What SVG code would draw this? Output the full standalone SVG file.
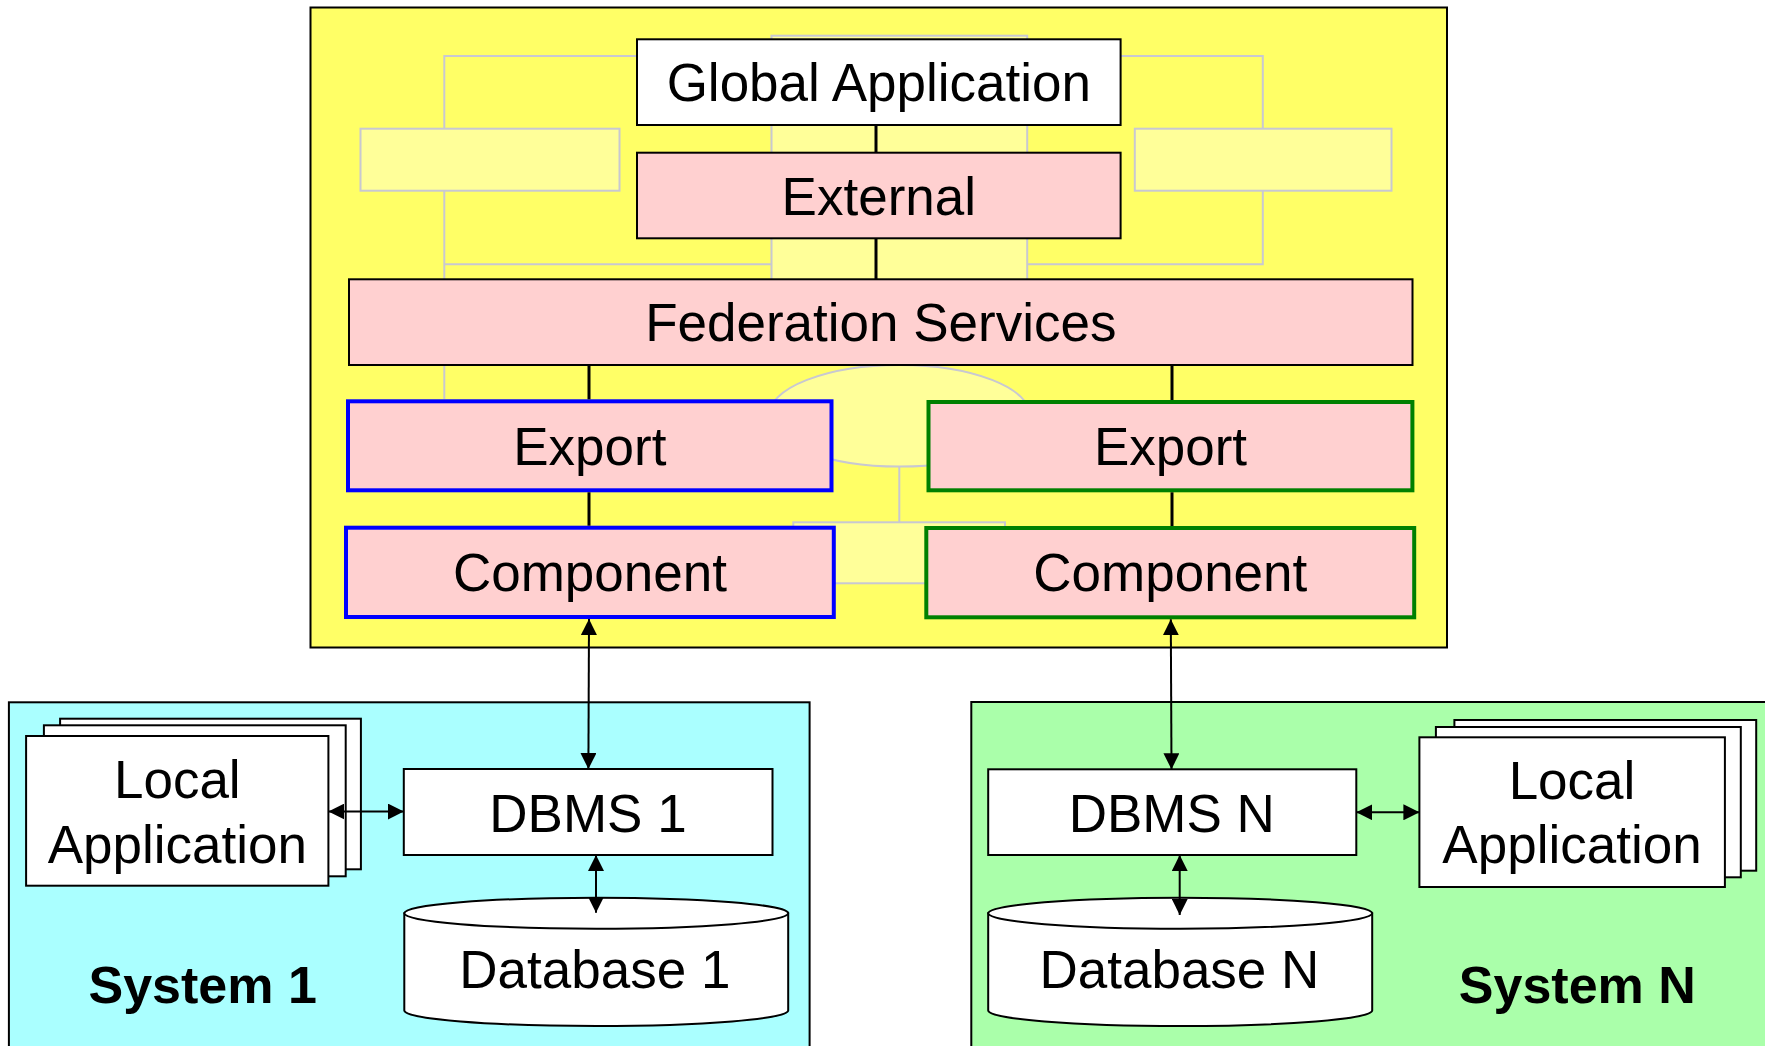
<svg xmlns="http://www.w3.org/2000/svg" width="1765" height="1046" viewBox="0 0 1765 1046">
  <defs>
    <marker id="arrow" markerUnits="userSpaceOnUse" markerWidth="16" markerHeight="16" viewBox="0 0 16 16" refX="16" refY="8" orient="auto-start-reverse">
      <path d="M0,0 L16,8 L0,16 Z" fill="#000"/>
    </marker>
    <style>
      text { font-family: "Liberation Sans", Arial, sans-serif; font-size: 53px; fill: #000; text-anchor: middle; }
      .bold { font-weight: bold; font-size: 52px; }
      .box { stroke: #000; stroke-width: 2; }
      .white { fill: #fff; }
      .pink { fill: #FFD0D0; }
      .blue { fill: #FFD0D0; stroke: #0000FF; stroke-width: 4; }
      .green { fill: #FFD0D0; stroke: #008000; stroke-width: 4; }
      .ghost { fill: #FFFF99; stroke: #C8C8D2; stroke-width: 2; }
      .ghostline { fill: none; stroke: #C8C8D2; stroke-width: 2; }
      .link { stroke: #000; stroke-width: 3; fill: none; }
      .arrow { stroke: #000; stroke-width: 2; fill: none; marker-start: url(#arrow); marker-end: url(#arrow); }
    </style>
  </defs>

  <!-- federation layer background -->
  <g id="federation-layer">
    <rect x="310.5" y="7.5" width="1136.5" height="640" fill="#FFFF66" stroke="#000" stroke-width="2"/>
    <!-- faint structure behind the schema boxes -->
    <rect class="ghost" x="771.5" y="35.7" width="255.7" height="260"/>
    <polyline class="ghostline" points="637,56 444.3,56 444.3,399"/>
    <polyline class="ghostline" points="444.3,264.3 771.5,264.3"/>
    <polyline class="ghostline" points="1120,56 1262.8,56 1262.8,264.3 1027.2,264.3"/>
    <rect class="ghost" x="360.5" y="128.7" width="259" height="62"/>
    <rect class="ghost" x="1134.8" y="128.7" width="256.7" height="62"/>
    <ellipse class="ghost" cx="899.5" cy="415.8" rx="130.8" ry="50.8"/>
    <line class="ghostline" x1="899.3" y1="466.6" x2="899.3" y2="522.3"/>
    <rect class="ghost" x="793.3" y="522.3" width="211.7" height="61"/>
  </g>

  <!-- local systems -->
  <g id="system-1">
    <rect x="8.9" y="702.3" width="800.7" height="360" fill="#AAFFFF" stroke="#000" stroke-width="2"/>
    <text class="bold" x="202.7" y="1003.3">System 1</text>
  </g>
  <g id="system-n">
    <rect x="971.3" y="702" width="820" height="360" fill="#AAFFAA" stroke="#000" stroke-width="2"/>
    <text class="bold" x="1577.3" y="1003.3">System N</text>
  </g>

  <g id="global-application">
    <rect class="box white" x="637" y="39.3" width="483.6" height="85.7"/>
    <text x="878.8" y="101">Global Application</text>
  </g>
  <g id="external-schema">
    <rect class="box pink" x="637" y="152.7" width="483.6" height="85.6"/>
    <text x="878.8" y="214.5">External</text>
  </g>
  <g id="federation-services">
    <rect class="box pink" x="349" y="279.3" width="1063.5" height="85.7"/>
    <text x="880.8" y="341">Federation Services</text>
  </g>
  <g id="export-1">
    <rect class="blue" x="348" y="401.3" width="483.5" height="89"/>
    <text x="589.8" y="464.8">Export</text>
  </g>
  <g id="component-1">
    <rect class="blue" x="346" y="527.7" width="487.8" height="89.3"/>
    <text x="589.9" y="591.3">Component</text>
  </g>
  <g id="export-n">
    <rect class="green" x="928.5" y="402" width="483.9" height="88.3"/>
    <text x="1170.5" y="464.8">Export</text>
  </g>
  <g id="component-n">
    <rect class="green" x="926.3" y="528" width="487.9" height="89.3"/>
    <text x="1170.3" y="591.3">Component</text>
  </g>

  <g id="local-application-1">
    <rect class="box white" x="60.1" y="718.7" width="300.8" height="150.6"/>
    <rect class="box white" x="43.9" y="725.3" width="301.8" height="151"/>
    <rect class="box white" x="26.1" y="736" width="302.3" height="149.7"/>
    <text x="177.3" y="798.3">Local</text>
    <text x="177.3" y="862.7">Application</text>
  </g>
  <g id="dbms-1">
    <rect class="box white" x="403.8" y="769" width="368.7" height="86"/>
    <text x="588" y="831.5">DBMS 1</text>
  </g>
  <g id="database-1">
    <path class="box white" d="M404.3,913.2 L404.3,1010.5 A191.95,15.5 0 0 0 788.2,1010.5 L788.2,913.2 Z"/>
    <ellipse class="box white" cx="596.25" cy="913.2" rx="191.95" ry="15.5"/>
    <text x="594.9" y="987.7">Database 1</text>
  </g>

  <g id="local-application-n">
    <rect class="box white" x="1454.4" y="720" width="301.8" height="150.7"/>
    <rect class="box white" x="1435.9" y="727" width="304.9" height="150.3"/>
    <rect class="box white" x="1419.4" y="737.3" width="305.5" height="149.7"/>
    <text x="1572" y="799">Local</text>
    <text x="1572" y="862.7">Application</text>
  </g>
  <g id="dbms-n">
    <rect class="box white" x="988.2" y="769.3" width="368.1" height="85.7"/>
    <text x="1171.8" y="831.5">DBMS N</text>
  </g>
  <g id="database-n">
    <path class="box white" d="M988.2,913.2 L988.2,1010.5 A192,15.5 0 0 0 1372.2,1010.5 L1372.2,913.2 Z"/>
    <ellipse class="box white" cx="1180.2" cy="913.2" rx="192" ry="15.5"/>
    <text x="1179.4" y="987.7">Database N</text>
  </g>

  <!-- connectors, drawn last so the arrowheads sit over the boxes -->
  <g id="connectors">
    <line class="link" x1="876" y1="125" x2="876" y2="152.7"/>
    <line class="link" x1="876" y1="238.3" x2="876" y2="279.3"/>
    <line class="link" x1="589" y1="365" x2="589" y2="399.3"/>
    <line class="link" x1="1172" y1="365" x2="1172" y2="400"/>
    <line class="link" x1="589" y1="492.3" x2="589" y2="525.7"/>
    <line class="link" x1="1172" y1="492.3" x2="1172" y2="526"/>
    <line class="arrow" x1="589" y1="619" x2="588.4" y2="769"/>
    <line class="arrow" x1="1170.8" y1="619.3" x2="1171.5" y2="769.3"/>
    <line class="arrow" x1="328.4" y1="811.5" x2="403.8" y2="811.5"/>
    <line class="arrow" x1="596" y1="855" x2="596" y2="912.7"/>
    <line class="arrow" x1="1356.3" y1="812.3" x2="1419.4" y2="812.3"/>
    <line class="arrow" x1="1179.7" y1="855" x2="1179.7" y2="915"/>
  </g>
</svg>
